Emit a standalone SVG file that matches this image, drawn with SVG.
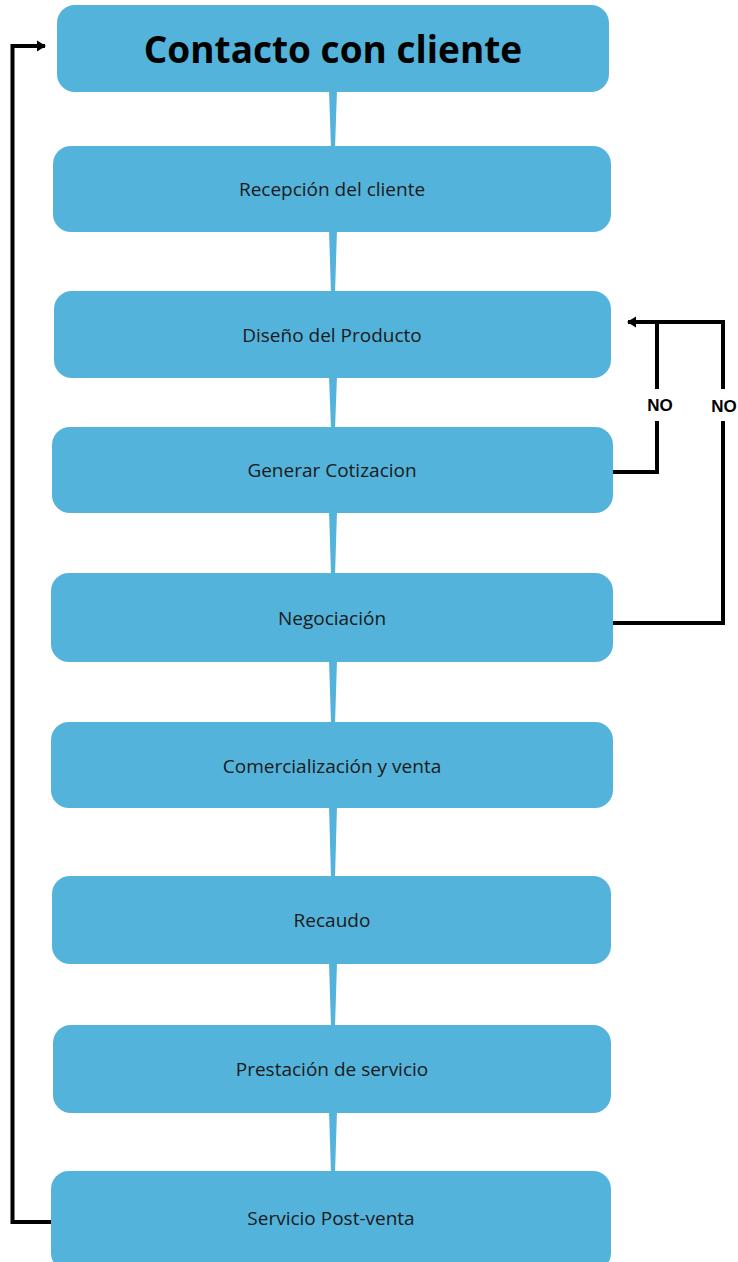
<svg xmlns="http://www.w3.org/2000/svg" width="738" height="1262" viewBox="0 0 738 1262">
<defs>
<style>
.box{fill:#53B3DA}
.lbl{font-family:"Open Sans","Liberation Sans",sans-serif;font-size:19px;fill:#1a1a1a;text-anchor:middle;dominant-baseline:central}
.ttl{font-family:"Open Sans","Liberation Sans",sans-serif;font-size:37px;font-weight:bold;fill:#000;text-anchor:middle;dominant-baseline:central}
.wire{fill:none;stroke:#000;stroke-width:4;stroke-linejoin:miter}
.stem{fill:#53B3DA}
.no{font-family:"Liberation Sans",Arial,sans-serif;font-size:17px;font-weight:bold;fill:#000;text-anchor:middle;dominant-baseline:central}
</style>
<marker id="ah" markerWidth="12" markerHeight="12" refX="8" refY="6" orient="auto" markerUnits="userSpaceOnUse">
<path d="M0,0.5 L9,6 L0,11.5 Z" fill="#000"/>
</marker>
</defs>
<g id="connectors">
<polygon class="stem" points="329,90 337,90 335,148 331,148"/>
<polygon class="stem" points="329,230 337,230 335,293 331,293"/>
<polygon class="stem" points="329,376 337,376 335,429 331,429"/>
<polygon class="stem" points="329,511 337,511 335,575 331,575"/>
<polygon class="stem" points="329,660 337,660 335,724 331,724"/>
<polygon class="stem" points="329,806 337,806 335,878 331,878"/>
<polygon class="stem" points="329,962 337,962 335,1027 331,1027"/>
<polygon class="stem" points="329,1111 337,1111 335,1173 331,1173"/>
<polyline class="wire" points="52,1222 12.5,1222 12.5,46 45,46" marker-end="url(#ah)"/>
<polyline class="wire" points="612,472 657,472 657,421"/>
<polyline class="wire" points="657,389 657,322"/>
<polyline class="wire" points="612,623 723,623 723,421"/>
<polyline class="wire" points="723,389 723,322 628,322" marker-end="url(#ah)"/>
<text class="no" x="660" y="405">NO</text>
<text class="no" x="724" y="406">NO</text>
</g>
<g id="n1"><rect class="box" x="57" y="5" width="552" height="87" rx="18"/><text class="ttl" x="333" y="48">Contacto con cliente</text></g>
<g id="n2"><rect class="box" x="53" y="146" width="558" height="86" rx="18"/><text class="lbl" x="332" y="189">Recepción del cliente</text></g>
<g id="n3"><rect class="box" x="54" y="291" width="557" height="87" rx="18"/><text class="lbl" x="332" y="335">Diseño del Producto</text></g>
<g id="n4"><rect class="box" x="52" y="427" width="561" height="86" rx="18"/><text class="lbl" x="332" y="470">Generar Cotizacion</text></g>
<g id="n5"><rect class="box" x="51" y="573" width="562" height="89" rx="18"/><text class="lbl" x="332" y="618">Negociación</text></g>
<g id="n6"><rect class="box" x="51" y="722" width="562" height="86" rx="18"/><text class="lbl" x="332" y="766">Comercialización y venta</text></g>
<g id="n7"><rect class="box" x="52" y="876" width="559" height="88" rx="18"/><text class="lbl" x="332" y="920">Recaudo</text></g>
<g id="n8"><rect class="box" x="53" y="1025" width="558" height="88" rx="18"/><text class="lbl" x="332" y="1069">Prestación de servicio</text></g>
<g id="n9"><rect class="box" x="51" y="1171" width="560" height="100" rx="18"/><text class="lbl" x="331" y="1218">Servicio Post-venta</text></g>
</svg>
